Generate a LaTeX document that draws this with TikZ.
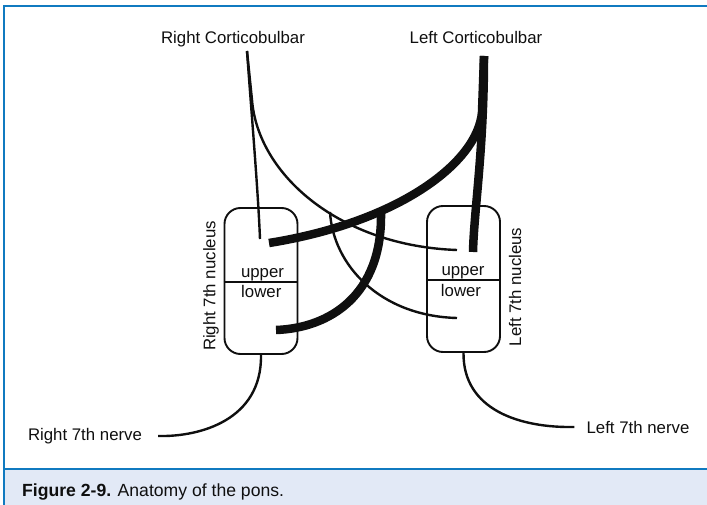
\documentclass[tikz,border=0pt]{standalone}
\usepackage{fontspec}
\setmainfont{Liberation Sans}
\usetikzlibrary{positioning}
\definecolor{ponsblue}{RGB}{16,122,192}
\definecolor{ponsband}{RGB}{226,233,246}
\definecolor{ponsink}{RGB}{15,15,15}

\tikzset{
  nucleus/.style={draw=ponsink, line width=1.9pt, rounded corners=16pt,
    minimum width=73pt, minimum height=146pt, inner sep=0pt},
  lbl/.style={font=\fontsize{16.8}{20}\selectfont, text=ponsink, inner sep=0pt},
  thinfibre/.style={draw=ponsink, line width=2.4pt},
  thickfibre/.style={draw=ponsink, line width=8.5pt},
}

\begin{document}
\begin{tikzpicture}[x=1pt, y=-1pt]
  \useasboundingbox (0,0) rectangle (707,505);
  % Frame and caption band
  \fill[ponsband] (3.7,469) rectangle (707,505);
  \draw[ponsblue, line width=2.2pt] (707,6.2) -- (3.7,6.2) -- (3.7,505);
  \draw[ponsblue, line width=2.2pt] (3.7,469) -- (707,469);
  \node[anchor=base west, inner sep=0pt, text=ponsink,
    font=\fontsize{17.6}{20}\selectfont] (caption) at (22,496)
    {\textbf{Figure 2-9.} Anatomy of the pons.};

  % Tract labels
  \node[lbl, anchor=base] (rcb) at (233,44) {Right Corticobulbar};
  \node[lbl, anchor=base] (lcb) at (476,44) {Left Corticobulbar};

  % 7th nuclei
  \node[nucleus] (rnuc) at (261,281) {};
  \node[nucleus] (lnuc) at (463.5,279) {};
  \draw[ponsink, line width=1.5pt] ([yshift=-1pt]rnuc.west) -- ([yshift=-1pt]rnuc.east);
  \draw[ponsink, line width=1.5pt] ([yshift=-1pt]lnuc.west) -- ([yshift=-1pt]lnuc.east);
  \node[lbl, anchor=base] (rupper) at (262.5,277.5) {upper};
  \node[lbl, anchor=base] (rlower) at (261.3,298) {lower};
  \node[lbl, anchor=base] (lupper) at (463,276) {upper};
  \node[lbl, anchor=base] (llower) at (461,296.7) {lower};
  \node[lbl, rotate=90] (rnucl) at (211,286) {Right 7th nucleus};
  \node[lbl, rotate=90] (lnucl) at (515,287) {Left 7th nucleus};

  % Right corticobulbar (thin)
  \coordinate (rtop) at (247,51);
  \coordinate (rsplit) at (252,100);
  \coordinate (rcross) at (330,212);
  \coordinate (rupend) at (260,239);
  \coordinate (lupend) at (457,250);
  \coordinate (llowend) at (457,318);
  \draw[thinfibre] (rtop) .. controls (252,120) and (258,190) .. (rupend);
  \draw[thinfibre] (rtop) -- (rsplit) .. controls (258,175) and (340,246) .. (lupend);
  \draw[thinfibre] (rcross) .. controls (333,265) and (380,316) .. (llowend);

  % Left corticobulbar (thick)
  \coordinate (ltop) at (484,56);
  \coordinate (lsplit) at (482,112);
  \coordinate (lcross) at (381,214);
  \coordinate (rupthk) at (269,243);
  \coordinate (rlowthk) at (276,330);
  \coordinate (lupthk) at (473,252);
  \draw[thickfibre] (ltop) .. controls (484,150) and (474,210) .. (lupthk);
  \draw[thickfibre] (ltop) -- (lsplit) .. controls (478,162) and (400,222) .. (rupthk);
  \draw[thickfibre] (lcross) .. controls (382,295) and (330,328) .. (rlowthk);

  % 7th nerves
  \node[lbl] (rnerve) at (85,436) {Right 7th nerve};
  \node[lbl, anchor=base] (lnerve) at (638,433) {Left 7th nerve};
  \coordinate[right=16pt of rnerve.east] (rnend);
  \coordinate[left=12pt of lnerve.west] (lnend);
  \draw[thinfibre] (rnuc.south) .. controls (262,420) and (200,437) .. (rnend);
  \draw[thinfibre] (lnuc.south) .. controls (463,410) and (520,428) .. (lnend);
\end{tikzpicture}
\end{document}
